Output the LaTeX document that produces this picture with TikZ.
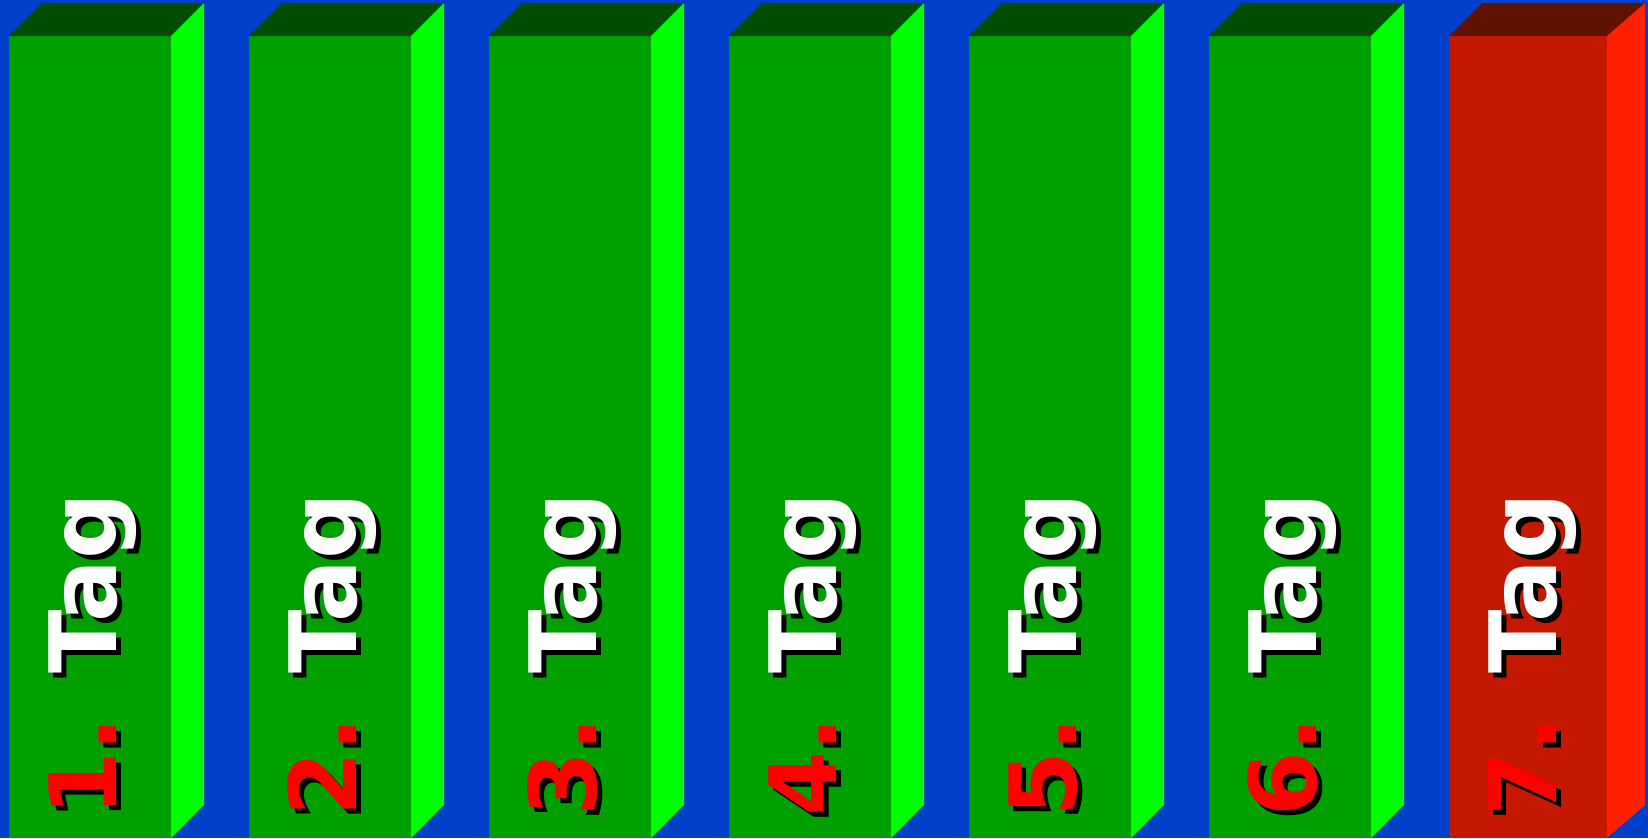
\documentclass[tikz,border=0pt]{standalone}
\usepackage{fontspec}
\newfontfamily\tagfont{DejaVu Sans}
\definecolor{bgblue}{RGB}{0,64,200}
\definecolor{gfront}{RGB}{0,160,0}
\definecolor{gtop}{RGB}{0,77,0}
\definecolor{gside}{RGB}{0,255,0}
\definecolor{rfront}{RGB}{196,24,0}
\definecolor{rtop}{RGB}{96,18,0}
\definecolor{rside}{RGB}{255,32,0}
\definecolor{numred}{RGB}{255,0,0}
\tikzset{
  tagtext/.style={rotate=90, anchor=base west, inner sep=0pt,
    font=\tagfont\bfseries\fontsize{93}{93}\selectfont},
}
\begin{document}
\begin{tikzpicture}[x=1pt,y=-1pt]
\fill[bgblue] (0,0) rectangle (1648,838);
\useasboundingbox (0,0) rectangle (1648,838);
\foreach \i/\f/\t/\s/\w/\d in {1/gfront/gtop/gside/162/33,2/gfront/gtop/gside/162/33,3/gfront/gtop/gside/162/33,4/gfront/gtop/gside/162/33,5/gfront/gtop/gside/162/33,6/gfront/gtop/gside/162/33,7/rfront/rtop/rside/158/38}{
  \pgfmathsetmacro\xl{9+240*(\i-1)}
  \pgfmathsetmacro\xr{\xl+\w}
  \pgfmathsetmacro\xb{\xr+\d}
  \fill[\f] (\xl,36) rectangle (\xr,838);
  \fill[\t] (\xl,36) -- (\xl+33,3) -- (\xb,3) -- (\xr,36) -- cycle;
  \fill[\s] (\xr,36) -- (\xb,3) -- (\xb,805) -- (\xr,838) -- cycle;
  \node[tagtext, text=black] (shadow\i) at (\xl+112,822) {\i. Tag};
  \node[tagtext, text=white] (label\i) at (\xl+107,817) {\textcolor{numred}{\i.} Tag};
}
\end{tikzpicture}
\end{document}
